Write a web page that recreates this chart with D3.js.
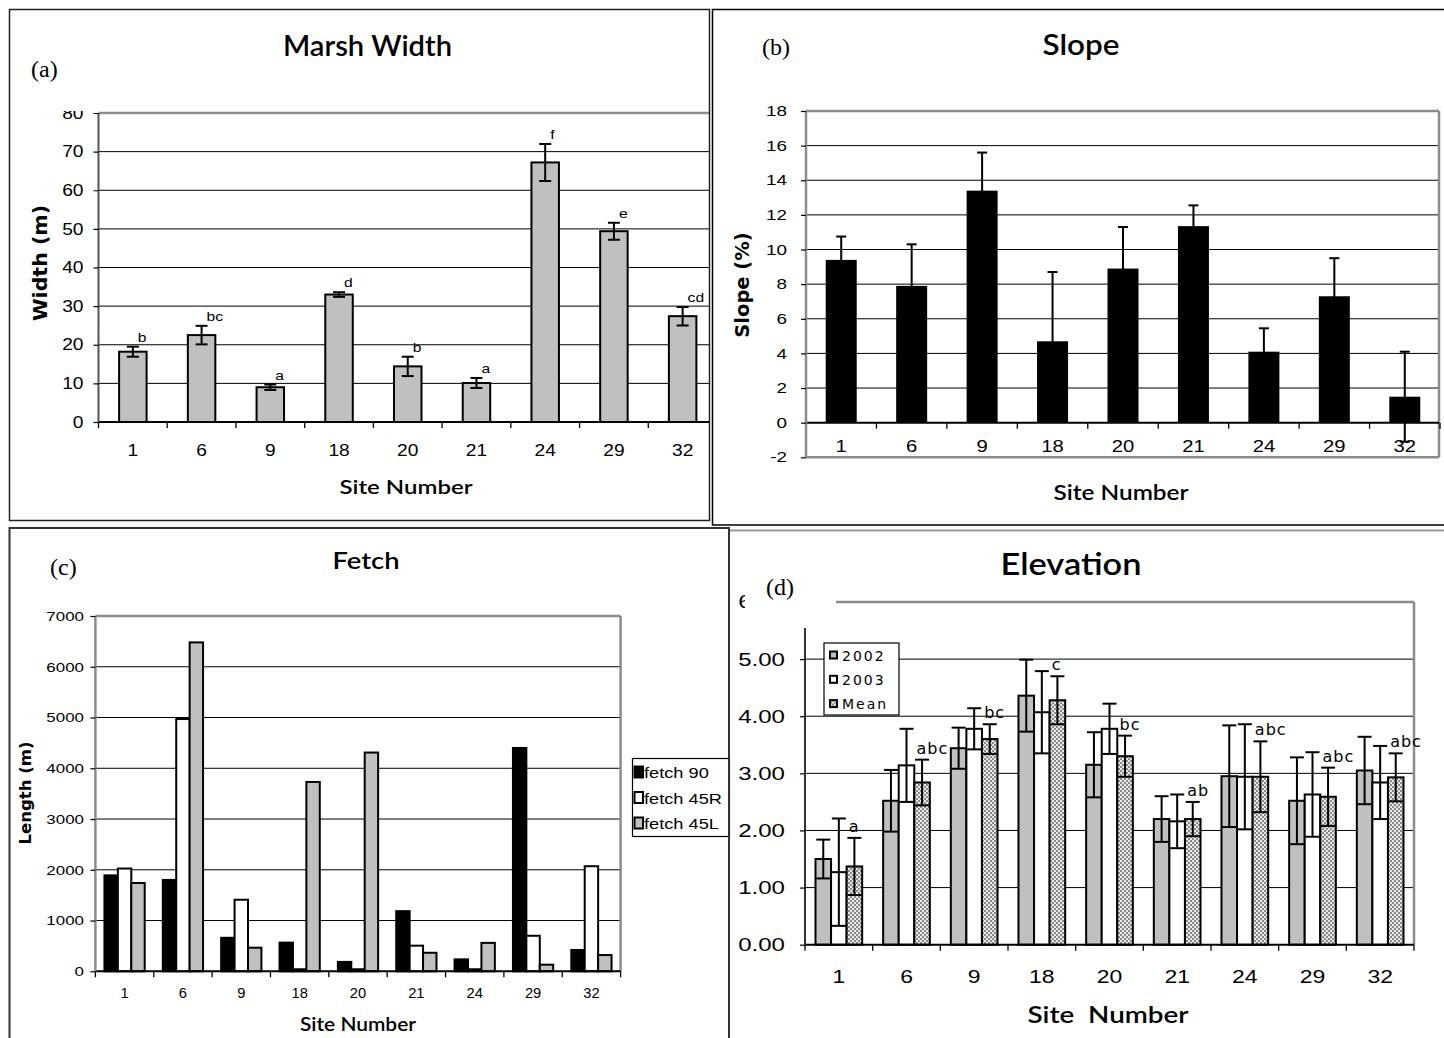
<!DOCTYPE html>
<html>
<head>
<meta charset="utf-8">
<script src="https://cdn.jsdelivr.net/npm/d3@7"></script>
<style>
  body { margin: 0; background: #fff; }
  svg { display: block; }
  text { font-family: "Liberation Sans", Arial, sans-serif; fill: #000; }
  text.serif { font-family: "Liberation Serif", "Times New Roman", serif; }
  text.heavy { font-family: Lato, "Liberation Sans", Arial, sans-serif; font-weight: 600; }
  text.ytitle { font-family: "DejaVu Sans", Verdana, sans-serif; font-weight: bold; }
  text.spaced { font-family: "DejaVu Sans", Verdana, sans-serif; }
</style>
</head>
<body>
<svg id="chart"></svg>
<script>
// site numbers (shared x categories)
const sites = ["1", "6", "9", "18", "20", "21", "24", "29", "32"];

// (a) marsh width (m), +/- error and letters
const widthMean = [18.2, 22.5, 9.0, 33.0, 14.4, 10.1, 67.2, 49.4, 27.4];
const widthErr = [1.3, 2.4, 0.7, 0.6, 2.5, 1.3, 4.8, 2.2, 2.4];
const widthLetters = ["b", "bc", "a", "d", "b", "a", "f", "e", "cd"];
const widthTicks = [0, 10, 20, 30, 40, 50, 60, 70, 80];

// (b) slope (%)
const slopeMean = [9.4, 7.9, 13.4, 4.7, 8.9, 11.35, 4.1, 7.3, 1.5];
const slopeErr = [1.35, 2.4, 2.2, 4.0, 2.4, 1.2, 1.35, 2.2, 2.6];
const slopeTicks = [-2, 0, 2, 4, 6, 8, 10, 12, 14, 16, 18];

// (c) fetch length (m)
const fetchSeries = ["fetch 90", "fetch 45R", "fetch 45L"];
const fetch90 = [1890, 1800, 660, 565, 185, 1185, 235, 4400, 420];
const fetch45R = [2025, 4970, 1410, 40, 40, 505, 40, 700, 2070];
const fetch45L = [1740, 6480, 465, 3730, 4310, 365, 560, 130, 320];
const fetchTicks = [0, 1000, 2000, 3000, 4000, 5000, 6000, 7000];

// (d) elevation
const elevSeries = ["2002", "2003", "Mean"];
const elev2002 = [1.50, 2.52, 3.44, 4.36, 3.15, 2.20, 2.95, 2.52, 3.05];
const elev2002Err = [0.34, 0.54, 0.36, 0.63, 0.57, 0.40, 0.89, 0.76, 0.59];
const elev2003 = [1.27, 3.14, 3.78, 4.07, 3.78, 2.16, 2.94, 2.63, 2.84];
const elev2003Err = [0.94, 0.64, 0.36, 0.72, 0.44, 0.47, 0.92, 0.74, 0.64];
const elevMean = [1.37, 2.84, 3.60, 4.28, 3.30, 2.20, 2.94, 2.59, 2.93];
const elevMeanErr = [0.50, 0.40, 0.26, 0.42, 0.36, 0.30, 0.62, 0.51, 0.42];
const elevLetters = ["a", "abc", "bc", "c", "bc", "ab", "abc", "abc", "abc"];
const elevTicks = [0, 1, 2, 3, 4, 5, 6];

const svg = d3.select("#chart").attr("width", 1444).attr("height", 1038);
const defs = svg.append("defs");

// dotted fill of the Mean series
const dots = defs.append("pattern")
  .attr("id", "dots")
  .attr("width", 4).attr("height", 4)
  .attr("patternUnits", "userSpaceOnUse");
dots.append("rect").attr("width", 4).attr("height", 4).attr("fill", "#8a8a8a");
dots.append("rect").attr("width", 2).attr("height", 2).attr("fill", "#e8e8e8");
dots.append("rect").attr("x", 2).attr("y", 2).attr("width", 2).attr("height", 2).attr("fill", "#e8e8e8");

// the scanned figure has wide lettering, so widen glyphs a bit
function stretch(sel, k) {
  sel.each(function() {
    const w = this.getComputedTextLength();
    if (w > 0) {
      d3.select(this).attr("textLength", w * k).attr("lengthAdjust", "spacingAndGlyphs");
    }
  });
}

// same, but to a fixed width
function fitWidth(t, w) {
  t.attr("textLength", w).attr("lengthAdjust", "spacingAndGlyphs");
}

function label(g, txt, x, y, size, k, cls, anchor) {
  const t = g.append("text")
    .attr("x", x).attr("y", y)
    .attr("font-size", size)
    .attr("text-anchor", anchor || "middle")
    .text(txt);
  if (cls) t.attr("class", cls);
  stretch(t, k);
  return t;
}

function yTitle(g, txt, x, y, size, k) {
  const t = g.append("text")
    .attr("class", "ytitle")
    .attr("transform", `translate(${x},${y}) rotate(-90)`)
    .attr("text-anchor", "middle")
    .attr("font-size", size)
    .text(txt);
  stretch(t, k);
}

function grid(g, y, vals, x0, x1, color, w) {
  g.append("g").selectAll("line")
    .data(vals)
    .join("line")
    .attr("x1", x0).attr("x2", x1)
    .attr("y1", d => y(d)).attr("y2", d => y(d))
    .attr("stroke", color)
    .attr("stroke-width", w);
}

function yAxis(g, y, x0, ticks, fmt, size, k, pad) {
  const ax = g.append("g")
    .attr("transform", `translate(${x0},0)`)
    .call(d3.axisLeft(y).tickValues(ticks).tickFormat(fmt).tickSize(5).tickPadding(pad));
  ax.select(".domain").remove();
  ax.attr("font-family", null).attr("font-size", null);
  ax.selectAll("line").attr("stroke", "#000").attr("stroke-width", 1.2);
  ax.selectAll("text").attr("font-size", size);
  stretch(ax.selectAll("text"), k);
  return ax;
}

function xAxis(g, x, y0, x1, size, k, pad) {
  g.append("line")
    .attr("x1", x.range()[0]).attr("x2", x1)
    .attr("y1", y0).attr("y2", y0)
    .attr("stroke", "#000").attr("stroke-width", 2);
  const ax = g.append("g")
    .attr("transform", `translate(0,${y0})`)
    .call(d3.axisBottom(x).tickSize(0).tickPadding(pad));
  ax.select(".domain").remove();
  ax.attr("font-family", null).attr("font-size", null);
  ax.selectAll("text").attr("font-size", size);
  stretch(ax.selectAll("text"), k);
  // tick marks sit between the categories
  g.append("g").selectAll("line")
    .data(d3.range(x.domain().length + 1))
    .join("line")
    .attr("x1", i => x.range()[0] + i * x.step())
    .attr("x2", i => x.range()[0] + i * x.step())
    .attr("y1", y0).attr("y2", y0 + 6)
    .attr("stroke", "#000").attr("stroke-width", 1.3);
}

function errorBars(g, data, y, capW) {
  const eb = g.append("g").attr("stroke", "#000").attr("stroke-width", 2);
  eb.selectAll("line.v").data(data).join("line").attr("class", "v")
    .attr("x1", d => d.cx).attr("x2", d => d.cx)
    .attr("y1", d => y(d.v - d.e)).attr("y2", d => y(d.v + d.e));
  eb.selectAll("line.top").data(data).join("line").attr("class", "top")
    .attr("x1", d => d.cx - capW / 2).attr("x2", d => d.cx + capW / 2)
    .attr("y1", d => y(d.v + d.e)).attr("y2", d => y(d.v + d.e));
  eb.selectAll("line.bot").data(data).join("line").attr("class", "bot")
    .attr("x1", d => d.cx - capW / 2).attr("x2", d => d.cx + capW / 2)
    .attr("y1", d => y(d.v - d.e)).attr("y2", d => y(d.v - d.e));
}

// ---------------- (a) Marsh Width ----------------
const gA = svg.append("g");
const xA = d3.scaleBand().domain(sites).range([98.5, 717]).paddingInner(0.6).paddingOuter(0.3);
const yA = d3.scaleLinear().domain([0, 80]).range([422, 113]);

defs.append("clipPath").attr("id", "clipA")
  .append("rect").attr("x", 0).attr("y", 0).attr("width", 709.5).attr("height", 520);
defs.append("clipPath").attr("id", "clipAy")
  .append("rect").attr("x", 0).attr("y", 111).attr("width", 709.5).attr("height", 420);

const plotA = gA.append("g").attr("clip-path", "url(#clipA)");
grid(plotA, yA, widthTicks.slice(1, -1), 98.5, 709.5, "#000", 1);
grid(plotA, yA, [80], 98.5, 709.5, "#8c8c8c", 2.5);

const dataA = sites.map((s, i) => ({ s: s, v: widthMean[i], e: widthErr[i], l: widthLetters[i], cx: xA(s) + xA.bandwidth() / 2 }));
plotA.append("g").selectAll("rect")
  .data(dataA)
  .join("rect")
  .attr("x", d => xA(d.s))
  .attr("y", d => yA(d.v))
  .attr("width", xA.bandwidth())
  .attr("height", d => yA(0) - yA(d.v))
  .attr("fill", "#c0c0c0")
  .attr("stroke", "#000")
  .attr("stroke-width", 2);
errorBars(plotA, dataA, yA, 12);
plotA.append("g").selectAll("text")
  .data(dataA)
  .join("text")
  .attr("x", d => d.cx + 5)
  .attr("y", d => yA(d.v + d.e) - 5)
  .attr("font-size", 13)
  .text(d => d.l)
  .call(stretch, 1.2);
xAxis(plotA, xA, 422, 709.5, 16.5, 1.16, 22);
gA.append("line")
  .attr("x1", 98.5).attr("x2", 98.5).attr("y1", 113).attr("y2", 422)
  .attr("stroke", "#555").attr("stroke-width", 2);
yAxis(gA.append("g").attr("clip-path", "url(#clipAy)"), yA, 98.5, widthTicks, d => String(d), 16, 1.2, 10);

fitWidth(label(gA, "Marsh Width", 367.5, 56, 29, 1, "heavy"), 169);
label(gA, "(a)", 31, 77, 24, 1, "serif", "start");
fitWidth(label(gA, "Site Number", 406, 494, 20, 1, "heavy"), 133);
yTitle(gA, "Width (m)", 47, 263, 19, 1.08);

// ---------------- (b) Slope ----------------
const gB = svg.append("g");
const xB = d3.scaleBand().domain(sites).range([806, 1440]).paddingInner(0.56).paddingOuter(0.28);
const yB = d3.scaleLinear().domain([-2, 18]).range([457.3, 111]);

grid(gB, yB, slopeTicks.filter(d => d > 0 && d < 18), 806, 1439, "#000", 1);
grid(gB, yB, [18, -2], 806, 1439, "#8c8c8c", 2.5);
gB.append("line")
  .attr("x1", 1439).attr("x2", 1439).attr("y1", yB(18)).attr("y2", yB(-2))
  .attr("stroke", "#8c8c8c").attr("stroke-width", 2.5);

const dataB = sites.map((s, i) => ({ s: s, v: slopeMean[i], e: slopeErr[i], cx: xB(s) + xB.bandwidth() / 2 }));
gB.append("g").selectAll("rect")
  .data(dataB)
  .join("rect")
  .attr("x", d => xB(d.s))
  .attr("y", d => yB(d.v))
  .attr("width", xB.bandwidth())
  .attr("height", d => yB(0) - yB(d.v))
  .attr("fill", "#000");
errorBars(gB, dataB, yB, 10);
xAxis(gB, xB, yB(0), 1439, 17, 1.19, 17);
gB.append("line")
  .attr("x1", 806).attr("x2", 806).attr("y1", yB(18)).attr("y2", yB(-2))
  .attr("stroke", "#8c8c8c").attr("stroke-width", 2.5);
// plain hyphen for the negative tick, as in the original
yAxis(gB, yB, 806, slopeTicks, d => String(d), 14.5, 1.3, 14);

fitWidth(label(gB, "Slope", 1081, 55, 29, 1, "heavy"), 77);
label(gB, "(b)", 762, 55, 24, 1, "serif", "start");
fitWidth(label(gB, "Site Number", 1121, 500, 21, 1, "heavy"), 135);
yTitle(gB, "Slope (%)", 749, 285, 19.5, 1.0);

// ---------------- (c) Fetch ----------------
const gC = svg.append("g");
const xC = d3.scaleBand().domain(sites).range([95.4, 620.6]).paddingInner(0.31).paddingOuter(0.155);
const xC1 = d3.scaleBand().domain(fetchSeries).range([0, xC.bandwidth()]);
const yC = d3.scaleLinear().domain([0, 7000]).range([971.3, 616]);
const fetchValues = [fetch90, fetch45R, fetch45L];
const fetchFill = { "fetch 90": "#000", "fetch 45R": "#fff", "fetch 45L": "#c0c0c0" };

grid(gC, yC, fetchTicks.slice(1, -1), 95.4, 620.6, "#000", 1);
grid(gC, yC, [7000], 95.4, 620.6, "#8c8c8c", 2.5);
gC.append("line")
  .attr("x1", 620.6).attr("x2", 620.6).attr("y1", yC(7000)).attr("y2", yC(0))
  .attr("stroke", "#8c8c8c").attr("stroke-width", 2.5);

const dataC = sites.flatMap((s, i) => fetchSeries.map((f, j) => ({ s: s, f: f, v: fetchValues[j][i] })));
gC.append("g").selectAll("rect")
  .data(dataC)
  .join("rect")
  .attr("x", d => xC(d.s) + xC1(d.f))
  .attr("y", d => yC(d.v))
  .attr("width", xC1.bandwidth())
  .attr("height", d => yC(0) - yC(d.v))
  .attr("fill", d => fetchFill[d.f])
  .attr("stroke", "#000")
  .attr("stroke-width", 2);
xAxis(gC, xC, yC(0), 620.6, 14, 1.05, 17);
gC.append("line")
  .attr("x1", 95.4).attr("x2", 95.4).attr("y1", yC(7000)).attr("y2", yC(0))
  .attr("stroke", "#8c8c8c").attr("stroke-width", 2.5);
yAxis(gC, yC, 95.4, fetchTicks, d => String(d), 13.5, 1.25, 6.5);

// legend (c)
const legC = gC.append("g");
legC.append("rect")
  .attr("x", 632.5).attr("y", 758.5).attr("width", 97).attr("height", 78)
  .attr("fill", "#fff").attr("stroke", "#000").attr("stroke-width", 1.2);
const legCItems = legC.selectAll("g.item")
  .data(fetchSeries)
  .join("g")
  .attr("class", "item")
  .attr("transform", (d, i) => `translate(634, ${772 + i * 25.5})`);
legCItems.append("rect")
  .attr("x", 0.5).attr("y", -5.5).attr("width", 8.5).attr("height", 11)
  .attr("fill", d => fetchFill[d]).attr("stroke", "#000").attr("stroke-width", 2);
legCItems.append("text")
  .attr("x", 10).attr("y", 6)
  .attr("font-size", 14)
  .text(d => d)
  .call(stretch, 1.3);

fitWidth(label(gC, "Fetch", 366, 569, 23, 1, "heavy"), 67);
label(gC, "(c)", 50, 575, 24, 1, "serif", "start");
fitWidth(label(gC, "Site Number", 358, 1031, 19, 1, "heavy"), 116);
yTitle(gC, "Length (m)", 31, 793, 16.5, 1.0);

// ---------------- (d) Elevation ----------------
const gD = svg.append("g");
const xD = d3.scaleBand().domain(sites).range([805, 1414]).paddingInner(0.31).paddingOuter(0.155);
const xD1 = d3.scaleBand().domain(elevSeries).range([0, xD.bandwidth()]);
const yD = d3.scaleLinear().domain([0, 6]).range([944.7, 602]);
const elevValues = [elev2002, elev2003, elevMean];
const elevErrors = [elev2002Err, elev2003Err, elevMeanErr];
const elevFill = { "2002": "#c0c0c0", "2003": "#fff", "Mean": "url(#dots)" };

grid(gD, yD, elevTicks.slice(1, -1), 805, 1414, "#000", 1);
grid(gD, yD, [6], 805, 1414, "#8c8c8c", 2.5);
gD.append("line")
  .attr("x1", 1414).attr("x2", 1414).attr("y1", yD(6)).attr("y2", yD(0))
  .attr("stroke", "#8c8c8c").attr("stroke-width", 2.5);

const dataD = sites.flatMap((s, i) => elevSeries.map((f, j) => ({
  s: s, f: f, v: elevValues[j][i], e: elevErrors[j][i],
  cx: xD(s) + xD1(f) + xD1.bandwidth() / 2
})));
gD.append("g").selectAll("rect")
  .data(dataD)
  .join("rect")
  .attr("x", d => xD(d.s) + xD1(d.f))
  .attr("y", d => yD(d.v))
  .attr("width", xD1.bandwidth())
  .attr("height", d => yD(0) - yD(d.v))
  .attr("fill", d => elevFill[d.f])
  .attr("stroke", "#000")
  .attr("stroke-width", 2);
errorBars(gD, dataD, yD, 14);
xAxis(gD, xD, yD(0), 1414, 18.5, 1.24, 25);
gD.append("line")
  .attr("x1", 805).attr("x2", 805).attr("y1", yD(6)).attr("y2", yD(0))
  .attr("stroke", "#333").attr("stroke-width", 2);
yAxis(gD, yD, 805, elevTicks, d3.format(".2f"), 18.5, 1.3, 15);

gD.append("g").selectAll("text")
  .data(sites)
  .join("text")
  .attr("class", "spaced")
  .attr("x", (s, i) => xD(s) + xD.bandwidth() / 2 + 10)
  .attr("y", (s, i) => yD(elevMean[i] + elevMeanErr[i]) - 6)
  .attr("font-size", 16)
  .attr("letter-spacing", 1)
  .text((s, i) => elevLetters[i]);

// legend (d)
const legD = gD.append("g");
legD.append("rect")
  .attr("x", 824).attr("y", 643).attr("width", 75).attr("height", 72)
  .attr("fill", "#fff").attr("stroke", "#000").attr("stroke-width", 1.2);
const legDItems = legD.selectAll("g.item")
  .data(elevSeries)
  .join("g")
  .attr("class", "item")
  .attr("transform", (d, i) => `translate(830, ${655 + i * 24.3})`);
legDItems.append("rect")
  .attr("x", 0).attr("y", -3.5).attr("width", 7).attr("height", 7)
  .attr("fill", d => elevFill[d]).attr("stroke", "#000").attr("stroke-width", 2);
legDItems.append("text")
  .attr("class", "spaced")
  .attr("x", 12).attr("y", 5.5)
  .attr("font-size", 14)
  .attr("letter-spacing", 2)
  .text(d => d);

// white label box hiding the top of the axis, as in the original
gD.append("rect")
  .attr("x", 745).attr("y", 568).attr("width", 91).attr("height", 60)
  .attr("fill", "#fff");
label(gD, "(d)", 766, 595, 24, 1, "serif", "start");
fitWidth(label(gD, "Elevation", 1071, 575, 31, 1, "heavy"), 141);
fitWidth(label(gD, "Site  Number", 1108, 1023, 22, 1, "heavy").style("white-space", "pre"), 161);

// ---------------- panel frames ----------------
const frames = svg.append("g").attr("fill", "none");
frames.append("rect")
  .attr("x", 9.5).attr("y", 9.5).attr("width", 700).attr("height", 511)
  .attr("stroke", "#222").attr("stroke-width", 1.5);
frames.append("path")
  .attr("d", "M1450,9.5 H712.5 V525 H1450")
  .attr("stroke", "#000").attr("stroke-width", 1.5);
frames.append("path")
  .attr("d", "M9.5,1045 V528 H729 V1045")
  .attr("stroke", "#333").attr("stroke-width", 2);
frames.append("path")
  .attr("d", "M730,530.5 H1450")
  .attr("stroke", "#999").attr("stroke-width", 2);
</script>
</body>
</html>
